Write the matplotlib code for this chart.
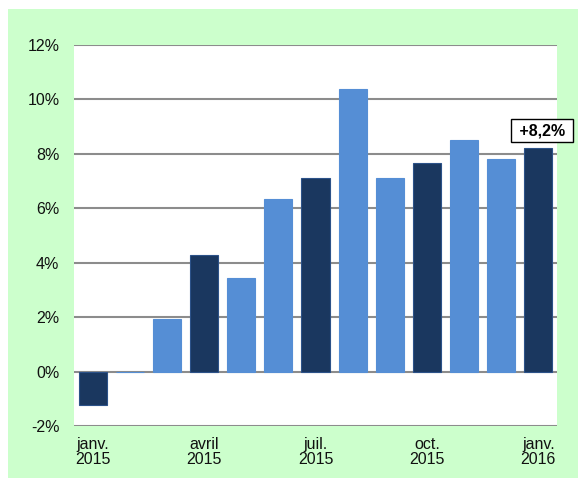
import matplotlib
matplotlib.use("Agg")
import matplotlib.pyplot as plt
from matplotlib.patches import Rectangle

plt.rcParams['font.family'] = ['Liberation Sans', 'DejaVu Sans']

months = ["janv. 2015", "févr. 2015", "mars 2015", "avril 2015", "mai 2015", "juin 2015",
          "juil. 2015", "août 2015", "sept. 2015", "oct. 2015", "nov. 2015", "déc. 2015", "janv. 2016"]
values = [-1.22, 0.0, 1.94, 4.29, 3.44, 6.34, 7.12, 10.39, 7.12, 7.66, 8.52, 7.82, 8.2]
highlight = [True, False, False, True, False, False, True, False, False, True, False, False, True]
tick_idx = [0, 3, 6, 9, 12]
tick_labels = ["janv.\n2015", "avril\n2015", "juil.\n2015", "oct.\n2015", "janv.\n2016"]
yticks = [-2, 0, 2, 4, 6, 8, 10, 12]
ytick_labels = ["-2%", "0%", "2%", "4%", "6%", "8%", "10%", "12%"]
annot_text = "+8,2%"

DARK = "#1a375f"
LIGHT = "#558ed5"

fig = plt.figure(figsize=(5.78, 4.79), dpi=100)
fig.patch.set_facecolor("white")
fig.patches.append(Rectangle((8 / 578, 1 / 479), 1 - 8 / 578, 1 - 10 / 479,
                             transform=fig.transFigure, facecolor="#ccffcc",
                             edgecolor="none", zorder=-10))

ax = fig.add_axes([74 / 578, 53 / 479, 483 / 578, 381 / 479])
ax.set_zorder(1)
ax.set_facecolor("white")

x = list(range(len(values)))
colors = [DARK if h else LIGHT for h in highlight]
edges = ["#2c5289" if h else LIGHT for h in highlight]
ax.bar(x, values, width=0.755, color=colors, edgecolor=edges, linewidth=0.8, zorder=3)

ax.set_xlim(-0.5, len(values) - 0.5)
ax.set_ylim(-2, 12)
ax.set_yticks(yticks)
ax.set_yticklabels(ytick_labels, fontsize=11.5, color="#111111")
ax.set_xticks(tick_idx)
ax.set_xticklabels(tick_labels, fontsize=11.5, color="#111111", linespacing=0.95)
ax.tick_params(axis="both", length=0)
ax.tick_params(axis="y", pad=10.5)
ax.tick_params(axis="x", pad=8)
ax.yaxis.grid(True, color="#8c8c8c", linewidth=1.5, zorder=1)
ax.set_axisbelow(True)
for s in ax.spines.values():
    s.set_visible(False)

ax.text(12.1, values[-1] + 0.65, " " + annot_text + " ", ha="center", va="center",
        fontsize=11.5, fontweight="bold", color="black", zorder=5,
        bbox=dict(boxstyle="square,pad=0.25", facecolor="white", edgecolor="black", linewidth=1.0))

fig.savefig("out.png", dpi=100)
